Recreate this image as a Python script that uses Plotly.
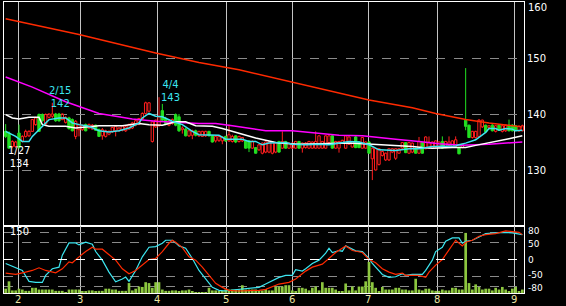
import plotly.graph_objects as go

# ---------------- data ----------------
days = list(range(156))

opens = [136.9,136.6,134.2,134.2,136.6,135.1,136.0,136.1,136.9,138.1,
         139.9,139.9,138.2,139.4,139.6,140.0,140.0,139.0,138.5,139.3,
         139.0,136.0,137.2,137.2,138.1,137.5,137.3,138.0,137.2,136.1,
         136.0,136.4,136.8,137.0,137.0,137.1,137.0,137.3,137.5,138.0,
         138.2,139.1,140.1,140.5,135.1,137.7,138.0,140.6,139.2,138.0,
         138.3,139.9,139.5,137.2,137.3,136.1,136.2,137.0,136.1,136.0,
         136.1,136.9,136.1,135.2,135.3,135.2,136.0,135.2,135.1,136.1,
         135.1,135.2,135.2,135.2,133.9,134.0,133.6,133.0,133.2,133.2,
         133.0,133.2,135.1,133.9,135.1,133.9,133.9,133.9,135.1,133.9,
         134.0,133.9,133.9,133.9,133.9,133.9,133.9,134.9,136.1,133.9,
         133.9,134.8,133.9,134.6,134.1,135.9,135.0,133.9,133.9,135.0,
         132.0,130.0,131.0,132.6,131.8,131.8,133.2,132.1,133.0,133.9,
         134.9,133.0,133.2,133.9,133.0,134.9,133.8,133.9,133.9,134.1,
         134.0,135.1,134.0,134.4,134.2,134.2,134.0,134.0,138.9,138.0,
         135.8,135.8,136.0,137.7,138.0,137.6,138.0,136.9,138.0,136.9,
         137.0,138.0,138.0,137.9,137.0,137.0]
highs = [138.2,136.9,135.3,135.2,138.1,136.2,137.2,137.1,139.1,139.5,
         140.1,140.1,140.1,140.1,142.0,140.2,140.2,140.1,139.6,139.5,
         139.2,138.9,138.3,138.1,138.3,138.3,138.2,138.1,137.4,137.5,
         137.2,137.1,137.7,137.9,137.6,138.0,137.9,138.3,138.6,139.0,
         139.3,140.3,142.2,142.1,138.8,139.0,143.0,141.8,139.5,139.0,
         139.2,140.1,140.0,137.8,137.5,137.1,137.2,137.2,137.0,137.0,
         137.0,137.0,136.2,136.1,136.1,136.0,136.1,138.1,136.3,136.2,
         136.1,135.9,135.3,135.3,135.3,134.1,134.6,134.9,135.1,135.2,
         135.1,134.9,135.2,136.9,135.2,134.9,134.9,135.2,135.2,134.9,
         135.0,135.2,135.1,136.9,136.2,135.2,136.2,136.2,136.2,135.2,
         135.2,135.4,136.2,136.0,135.2,136.1,135.1,135.9,135.1,135.2,
         134.0,133.9,133.9,133.5,133.1,133.9,133.9,133.9,133.9,135.0,
         135.0,135.0,134.9,134.0,135.9,135.0,136.0,136.0,135.1,135.3,
         135.1,136.0,135.2,136.0,135.3,136.0,134.2,134.7,148.2,138.1,
         137.0,137.0,139.1,139.0,138.1,138.0,138.2,138.0,138.2,138.0,
         138.1,139.0,138.2,138.0,138.0,138.1]
lows = [135.7,133.8,133.9,133.9,133.8,134.9,135.8,135.9,136.8,137.9,
        136.8,138.6,138.0,139.2,139.3,138.6,138.6,138.9,138.3,137.2,
        136.9,135.5,136.0,137.0,136.9,137.3,137.2,137.0,135.9,135.4,
        135.8,136.2,136.6,136.0,136.8,136.9,136.8,137.2,137.3,137.8,
        138.0,139.0,139.9,140.3,134.9,137.5,137.7,138.8,138.0,137.8,
        138.1,137.8,136.8,136.5,136.0,135.9,135.5,136.0,135.9,135.9,
        135.9,136.0,134.9,134.9,135.0,134.6,135.0,135.0,134.9,134.8,
        134.9,135.0,133.8,133.2,133.8,132.9,133.4,132.8,133.0,133.0,
        132.8,133.0,133.1,133.8,133.8,133.8,133.8,133.8,133.8,133.1,
        133.8,133.8,133.8,133.8,133.8,133.8,133.8,134.8,133.8,133.8,
        133.1,134.7,133.8,134.5,134.0,133.9,133.9,133.8,133.8,132.9,
        128.2,129.9,130.8,132.4,131.6,131.6,133.0,131.8,132.9,133.8,
        133.0,132.9,133.0,132.9,132.9,132.9,133.7,133.8,133.8,134.0,
        133.9,133.8,133.9,134.3,134.0,134.1,132.8,133.9,137.1,135.7,
        135.6,135.6,135.9,137.5,136.7,137.2,136.9,136.7,137.0,136.7,
        136.8,136.9,136.9,136.9,136.8,136.9]
closes = [136.0,133.9,135.1,135.0,134.0,136.0,136.9,136.9,139.0,139.3,
          136.9,138.8,139.9,140.0,140.0,138.8,138.8,140.0,139.4,137.4,
          137.0,138.7,138.1,138.0,137.0,138.1,138.0,137.1,136.0,137.2,
          137.0,136.9,137.6,137.8,137.5,137.9,137.7,138.1,138.4,138.8,
          139.2,140.1,142.0,142.0,138.6,138.9,139.5,138.9,138.3,138.8,
          139.0,138.0,137.0,137.5,136.1,137.0,137.0,136.2,136.9,136.9,
          136.9,136.1,135.0,136.0,136.0,135.9,135.2,136.3,136.0,135.0,
          136.0,135.8,133.9,133.9,135.1,133.0,134.5,134.8,135.0,135.0,
          135.0,134.8,133.2,135.1,133.9,134.8,134.8,135.1,133.9,134.8,
          134.8,135.1,135.0,135.1,136.1,135.1,136.1,136.1,133.9,135.1,
          135.1,135.3,136.1,135.9,135.1,134.0,134.0,135.8,135.0,133.0,
          133.9,133.8,133.8,133.3,133.0,133.8,133.8,133.8,133.8,134.9,
          133.1,134.9,134.8,133.0,135.1,133.0,135.9,135.0,135.0,135.2,
          135.0,133.9,135.1,135.0,135.2,135.4,132.9,134.6,137.8,135.8,
          136.9,136.9,138.9,138.9,136.8,137.9,137.0,137.9,137.1,137.9,
          138.0,137.0,137.0,137.1,137.8,137.9]

volume = [10,27,6,6,10,8,5,5,12,12,8,8,8,8,8,5,5,5,2,8,
          8,8,8,4,4,6,6,4,5,5,10,10,8,8,5,5,5,23,6,10,
          15,14,25,23,12,25,25,8,5,5,6,6,4,6,6,8,4,2,2,2,
          2,12,6,6,4,4,8,8,8,8,8,18,8,8,8,8,6,6,9,6,
          6,15,15,15,18,18,6,4,12,12,10,6,12,15,6,25,12,12,12,8,
          3,3,22,6,15,6,15,15,27,72,25,12,3,14,8,8,8,12,12,8,
          8,6,6,33,8,6,10,10,6,5,5,8,6,6,12,12,8,8,139,23,
          8,20,14,8,10,10,6,12,8,14,8,4,10,14,4,8]

# moving-average lines (day index, price)
ma_red_x = [0, 22, 45, 58, 70, 88, 109, 122, 129, 138, 145, 155]
ma_red_y = [157.0, 154.2, 150.9, 149.2, 147.9, 145.4, 142.5, 141.1, 140.1, 139.0, 138.4, 137.7]

ma_mag_x = [0, 8, 18, 28, 38, 45, 58, 63, 68, 78, 86, 89, 92, 100, 107, 111, 117, 124, 130, 137, 145, 155]
ma_mag_y = [146.6, 144.8, 142.2, 140.1, 139.1, 138.7, 138.3, 138.3, 137.9, 137.0, 137.0, 136.8,
            136.6, 136.2, 136.1, 135.9, 135.5, 135.1, 134.7, 134.4, 134.6, 135.0]

ma_white_x = [0, 2, 4, 7, 10, 11, 13, 18, 21, 28, 35, 40, 43, 47, 51, 54, 57, 62, 65, 68,
              71, 75, 78, 82, 88, 97, 103, 110, 114, 117, 122, 125, 128, 134, 138, 141, 144, 148, 151, 155]
ma_white_y = [139.9, 139.3, 139.1, 139.4, 139.4, 138.1, 137.8, 137.8, 137.5, 137.9, 137.9, 138.3,
              138.1, 138.0, 138.6, 138.6, 137.9, 137.8, 137.4, 136.9, 136.3, 135.7, 135.3, 134.8,
              134.6, 134.7, 134.8, 134.6, 134.5, 134.3, 134.2, 134.0, 133.9, 134.0, 134.0, 134.4,
              134.8, 135.2, 135.6, 136.1]

ma_cyan_x = [0, 3, 5, 7, 8, 10, 13, 16, 18, 20, 22, 25, 28, 31, 34, 37, 40, 41, 43, 45,
             47, 50, 53, 56, 58, 61, 64, 66, 71, 73, 75, 77, 79, 84, 86, 90, 94, 97, 100, 103,
             106, 109, 112, 117, 121, 124, 128, 132, 135, 136, 138, 141, 142, 144, 145, 147, 148,
             150, 152, 153, 155]
ma_cyan_y = [136.9, 136.0, 135.1, 135.1, 136.0, 137.2, 139.0, 139.3, 139.3, 138.4,
             138.1, 137.8, 137.0, 136.8, 137.0, 137.5, 138.4, 139.3, 140.1, 139.6,
             139.5, 138.7, 138.1, 136.9, 136.3, 136.25, 136.2, 135.5, 135.5, 135.1,
             135.1, 134.5, 134.8, 134.9, 134.6, 134.5, 134.6, 134.5, 134.8, 135.1,
             135.0, 134.5, 133.6, 133.5, 133.8, 133.8, 134.2, 134.3, 134.3, 134.5,
             134.8, 135.4, 135.8, 136.7, 137.4, 137.4, 137.1, 137.4, 137.3, 137.0, 137.1]

# oscillators in lower panel
osc_cyan_x = [0,3,5,7,9,11,12,14,16,17,19,21,22,24,26,27,29,31,33,35,
              36,37,39,41,43,45,47,48,50,51,52,54,56,58,60,62,64,66,68,70,
              72,74,76,78,80,82,84,86,87,89,90,92,94,96,97,98,100,101,102,104,
              105,107,109,110,112,113,115,117,119,120,122,125,126,128,129,131,132,134,136,137,
              138,140,142,144,147,150,152,154,155]
osc_cyan_y = [-12,-25,-33,-66,-69,-69,-48,-28,-23,13,50,50,44,52,46,24,-2,-38,-67,-59,
              -53,-66,-33,8,37,39,49,58,58,50,41,34,3,-33,-59,-84,-93,-95,-92,-90,
              -88,-88,-84,-74,-64,-54,-48,-48,-31,-35,-28,-12,-2,19,34,21,27,25,41,32,
              26,24,3,-12,-33,-45,-54,-52,-43,-48,-45,-45,-33,-2,24,37,55,65,65,49,
              55,58,68,78,80,82,80,78,75]
osc_red_x = [0,3,6,8,10,12,15,17,19,20,22,24,26,27,29,31,33,35,37,39,
             41,43,45,47,49,50,51,53,55,57,59,61,63,65,67,70,74,76,78,80,
             82,85,87,90,92,95,97,99,102,104,107,109,111,113,115,117,119,120,122,124,
             126,127,129,131,133,135,137,138,140,142,144,147,150,152,154,155]
osc_red_y = [-41,-45,-38,-33,-25,-33,-40,-28,-7,-10,8,24,37,31,31,13,-2,-28,-43,-33,
             -17,0,3,24,49,58,52,36,8,-2,-23,-48,-72,-84,-93,-95,-95,-93,-90,-82,
             -74,-69,-59,-35,-23,-14,3,21,41,27,21,0,-10,-28,-38,-45,-41,-48,-48,-48,
             -54,-38,-17,0,29,58,41,52,58,70,75,78,86,83,82,75]

month_pos = [3.7, 22.3, 45.4, 66.1, 85.9, 108.7, 129.4, 152.5]
month_labels = ["2", "3", "4", "5", "6", "7", "8", "9"]

price_ticks = [130, 140, 150]
price_top_label = 160
osc_ticks = [80, 50, 0, -50, -80]

# ---------------- figure ----------------
FONT = "DejaVu Sans"
UP = "#ff1e1e"
DOWN = "#22e022"
fig = go.Figure()

# candles: wicks + bodies, built from the OHLC lists
for is_up, col in [(True, UP), (False, DOWN)]:
    wx, wy = [], []
    bx, bbase, bh = [], [], []
    for d, o, h, l, c in zip(days, opens, highs, lows, closes):
        if (c >= o) != is_up:
            continue
        lo_b, hi_b = min(o, c), max(o, c)
        wx += [d, d, None, d, d, None]
        wy += [l, lo_b, None, hi_b, h, None]
        bx.append(d)
        bbase.append(lo_b)
        bh.append(hi_b - lo_b)
    fig.add_trace(go.Scatter(x=wx, y=wy, mode="lines", line=dict(color=col, width=1),
                             xaxis="x", yaxis="y", showlegend=False, hoverinfo="skip"))
    fig.add_trace(go.Bar(x=bx, y=bh, base=bbase, width=0.72,
                         marker=dict(color="rgba(0,0,0,0)" if is_up else col,
                                     line=dict(color=col, width=1)),
                         xaxis="x", yaxis="y", showlegend=False, hoverinfo="skip"))

for xs, ys, col in [(ma_red_x, ma_red_y, "#ff2a00"),
                    (ma_mag_x, ma_mag_y, "#ff00ff"),
                    (ma_white_x, ma_white_y, "#ffffff"),
                    (ma_cyan_x, ma_cyan_y, "#3ce6f0")]:
    fig.add_trace(go.Scatter(x=xs, y=ys, mode="lines", line=dict(color=col, width=1.5),
                             xaxis="x", yaxis="y", showlegend=False, hoverinfo="skip"))

fig.add_trace(go.Bar(x=days, y=volume, marker=dict(color="#8cc63f", line=dict(width=0)),
                     width=0.8, xaxis="x2", yaxis="y2", showlegend=False, hoverinfo="skip"))

fig.add_trace(go.Scatter(x=osc_cyan_x, y=osc_cyan_y, mode="lines",
                         line=dict(color="#3ce6f0", width=1.2),
                         xaxis="x2", yaxis="y3", showlegend=False, hoverinfo="skip"))
fig.add_trace(go.Scatter(x=osc_red_x, y=osc_red_y, mode="lines",
                         line=dict(color="#ff2a00", width=1.2),
                         xaxis="x2", yaxis="y3", showlegend=False, hoverinfo="skip"))

split = (293 - 226) / 291.0
grid_v = "#c4c4c4"
grid_h = "#8a8a8a"

annotations = [
    dict(x=1, y=price_top_label, xref="paper", yref="y", text=str(price_top_label),
         showarrow=False, xanchor="left", yanchor="top", xshift=2, yshift=2,
         font=dict(color="white", size=10, family=FONT)),
    dict(x=4.0, y=132.4, xref="x", yref="y", text="1/27<br>134", showarrow=False,
         font=dict(color="white", size=10, family=FONT)),
    dict(x=16.3, y=143.1, xref="x", yref="y", text="2/15<br>142", showarrow=False,
         font=dict(color="#3ce6f0", size=10, family=FONT)),
    dict(x=49.3, y=144.1, xref="x", yref="y", text="4/4<br>143", showarrow=False,
         font=dict(color="#3ce6f0", size=10, family=FONT)),
    dict(x=0.008, y=(293 - 231) / 291.0, xref="paper", yref="paper", text="150",
         showarrow=False, xanchor="left", yanchor="middle",
         font=dict(color="white", size=10, family=FONT)),
]
for mp, ml in zip(month_pos, month_labels):
    annotations.append(dict(x=mp, y=0, xref="x2", yref="paper", text=ml, showarrow=False,
                            xanchor="center", yanchor="top", yshift=1,
                            font=dict(color="#ece6a6", size=10, family=FONT)))
# oscillator scale labels (nudged slightly apart so neighbours do not collide)
osc_nudge = {80: 1.5, 50: -1.5, 0: 0, -50: 1.5, -80: -1.5}
for v in osc_ticks:
    annotations.append(dict(x=1, y=v, xref="paper", yref="y3", text=str(v), showarrow=False,
                            xanchor="left", yanchor="middle", xshift=2, yshift=osc_nudge[v],
                            font=dict(color="white", size=9, family=FONT)))

fig.update_layout(
    width=566, height=306,
    margin=dict(l=4, r=42, t=2, b=13, autoexpand=False),
    paper_bgcolor="black", plot_bgcolor="black",
    showlegend=False, barmode="overlay",
    font=dict(family=FONT, size=11, color="white"),
    xaxis=dict(domain=[0, 1], anchor="y", range=[-0.5, 155.5], automargin=False,
               tickmode="array", tickvals=month_pos, showticklabels=False,
               showgrid=True, gridcolor=grid_v, gridwidth=1, zeroline=False,
               showline=True, linecolor="white", linewidth=1, mirror=True, ticks=""),
    yaxis=dict(domain=[split, 1], anchor="x", range=[120, 160], side="right", automargin=False,
               tickmode="array", tickvals=price_ticks,
               showgrid=True, gridcolor=grid_h, griddash="dash", gridwidth=1,
               zeroline=False, showline=True, linecolor="white", linewidth=1,
               mirror=True, ticks="", tickfont=dict(color="white", size=10)),
    xaxis2=dict(domain=[0, 1], anchor="y2", range=[-0.5, 155.5], matches="x", automargin=False,
                tickmode="array", tickvals=month_pos, showticklabels=False,
                showgrid=True, gridcolor=grid_v, gridwidth=1, zeroline=False,
                showline=True, linecolor="white", linewidth=1, mirror=True, ticks=""),
    yaxis2=dict(domain=[0, split], anchor="x2", range=[0, 155], automargin=False,
                showticklabels=False, showgrid=False, zeroline=False,
                showline=True, linecolor="white", linewidth=1, mirror=True, ticks=""),
    yaxis3=dict(overlaying="y2", anchor="x2", side="right", range=[-101, 101], automargin=False,
                tickmode="array", tickvals=osc_ticks, showticklabels=False,
                showgrid=True, gridcolor=grid_h, griddash="dash", gridwidth=1,
                zeroline=False, showline=False, ticks=""),
    shapes=[dict(type="line", xref="paper", x0=0, x1=1, yref="y3", y0=0, y1=0,
                 line=dict(color="white", width=1, dash="dash"))],
    annotations=annotations,
)

fig.write_html("out.html")
